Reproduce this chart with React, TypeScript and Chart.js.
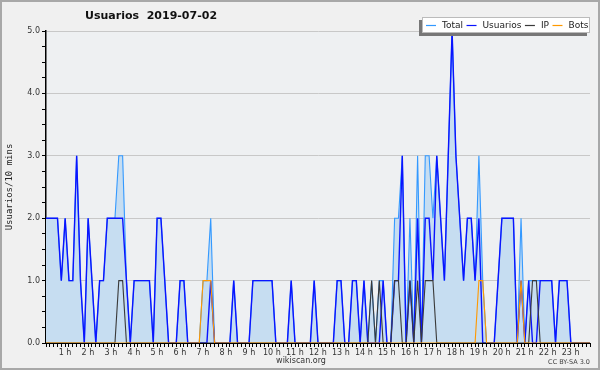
import React, { useEffect, useRef } from "react";
import { Chart, registerables } from "chart.js";

Chart.register(...registerables);

// 10-minute slots of the day (index 0 = 00:00, 6 = 01:00 ...)
const slots: number[] = Array.from({ length: 144 }, (_, i) => i);

const total: number[] = [
  2, 2, 2, 2, 1, 2, 1, 1, 3, 1, 0, 2,
  1, 0, 1, 1, 2, 2, 2, 3, 3, 1, 0, 1,
  1, 1, 1, 1, 0, 2, 2, 1, 0, 0, 0, 1,
  1, 0, 0, 0, 0, 1, 1, 2, 0, 0, 0, 0,
  0, 1, 0, 0, 0, 0, 1, 1, 1, 1, 1, 1,
  0, 0, 0, 0, 1, 0, 0, 0, 0, 0, 1, 0,
  0, 0, 0, 0, 1, 1, 0, 0, 1, 1, 0, 1,
  0, 1, 0, 1, 1, 0, 0, 2, 2, 3, 0, 2,
  0, 3, 0, 3, 3, 2, 3, 2, 1, 3, 5, 3,
  2, 1, 2, 2, 1, 3, 1, 0, 0, 0, 1, 2,
  2, 2, 2, 0, 2, 0, 1, 1, 1, 1, 1, 1,
  1, 0, 1, 1, 1, 0, 0, 0, 0, 0, 0, 0,
];

const usuarios: number[] = [
  2, 2, 2, 2, 1, 2, 1, 1, 3, 1, 0, 2,
  1, 0, 1, 1, 2, 2, 2, 2, 2, 1, 0, 1,
  1, 1, 1, 1, 0, 2, 2, 1, 0, 0, 0, 1,
  1, 0, 0, 0, 0, 0, 0, 1, 0, 0, 0, 0,
  0, 1, 0, 0, 0, 0, 1, 1, 1, 1, 1, 1,
  0, 0, 0, 0, 1, 0, 0, 0, 0, 0, 1, 0,
  0, 0, 0, 0, 1, 1, 0, 0, 1, 1, 0, 1,
  0, 0, 0, 0, 1, 0, 0, 1, 1, 3, 0, 1,
  0, 2, 0, 2, 2, 1, 3, 2, 1, 3, 5, 3,
  2, 1, 2, 2, 1, 2, 0, 0, 0, 0, 1, 2,
  2, 2, 2, 0, 1, 0, 1, 0, 0, 1, 1, 1,
  1, 0, 1, 1, 1, 0, 0, 0, 0, 0, 0, 0,
];

const ip: number[] = [
  0, 0, 0, 0, 0, 0, 0, 0, 0, 0, 0, 0,
  0, 0, 0, 0, 0, 0, 0, 1, 1, 0, 0, 0,
  0, 0, 0, 0, 0, 0, 0, 0, 0, 0, 0, 0,
  0, 0, 0, 0, 0, 0, 0, 0, 0, 0, 0, 0,
  0, 0, 0, 0, 0, 0, 0, 0, 0, 0, 0, 0,
  0, 0, 0, 0, 0, 0, 0, 0, 0, 0, 0, 0,
  0, 0, 0, 0, 0, 0, 0, 0, 0, 0, 0, 0,
  0, 1, 0, 1, 0, 0, 0, 1, 1, 0, 0, 1,
  0, 1, 0, 1, 1, 1, 0, 0, 0, 0, 0, 0,
  0, 0, 0, 0, 0, 0, 0, 0, 0, 0, 0, 0,
  0, 0, 0, 0, 0, 0, 0, 1, 1, 0, 0, 0,
  0, 0, 0, 0, 0, 0, 0, 0, 0, 0, 0, 0,
];

const bots: number[] = [
  0, 0, 0, 0, 0, 0, 0, 0, 0, 0, 0, 0,
  0, 0, 0, 0, 0, 0, 0, 0, 0, 0, 0, 0,
  0, 0, 0, 0, 0, 0, 0, 0, 0, 0, 0, 0,
  0, 0, 0, 0, 0, 1, 1, 1, 0, 0, 0, 0,
  0, 0, 0, 0, 0, 0, 0, 0, 0, 0, 0, 0,
  0, 0, 0, 0, 0, 0, 0, 0, 0, 0, 0, 0,
  0, 0, 0, 0, 0, 0, 0, 0, 0, 0, 0, 0,
  0, 0, 0, 0, 0, 0, 0, 0, 0, 0, 0, 0,
  0, 0, 0, 0, 0, 0, 0, 0, 0, 0, 0, 0,
  0, 0, 0, 0, 0, 1, 1, 0, 0, 0, 0, 0,
  0, 0, 0, 0, 1, 0, 0, 0, 0, 0, 0, 0,
  0, 0, 0, 0, 0, 0, 0, 0, 0, 0, 0, 0,
];

const seriesNames: string[] = ["Total", "Usuarios", "IP", "Bots"];
const chartTitle = "Usuarios  2019-07-02";
const yTitle = "Usuarios/10 mins";
const xTitle = "wikiscan.org";
const license = "CC BY-SA 3.0";

const FONT = '"DejaVu Sans", sans-serif';

const decor = {
  id: "decor",
  beforeDraw(chart: any) {
    const { ctx, chartArea: a, width, height } = chart;
    ctx.save();
    ctx.fillStyle = "#f0f0f0";
    ctx.fillRect(0, 0, width, height);
    ctx.fillStyle = "#eef0f2";
    ctx.fillRect(a.left, a.top, a.right - a.left, a.bottom - a.top);
    ctx.strokeStyle = "#a8a8a8";
    ctx.lineWidth = 2;
    ctx.strokeRect(1, 1, width - 2, height - 2);
    ctx.restore();
  },
  afterDraw(chart: any) {
    const { ctx, chartArea: a, width } = chart;
    ctx.save();
    // title
    ctx.fillStyle = "#111";
    ctx.font = `bold 11px ${FONT}`;
    ctx.textBaseline = "middle";
    ctx.textAlign = "left";
    ctx.fillText(chartTitle, 85, 16);
    // y title
    ctx.save();
    ctx.translate(10, (a.top + a.bottom) / 2);
    ctx.rotate(-Math.PI / 2);
    ctx.font = '9px "DejaVu Sans Mono", monospace';
    ctx.textAlign = "center";
    ctx.fillStyle = "#222";
    ctx.fillText(yTitle, 0, 0);
    ctx.restore();
    // x title
    ctx.font = `8px ${FONT}`;
    ctx.textAlign = "center";
    ctx.fillStyle = "#333";
    ctx.fillText(xTitle, 301, 361);
    // license
    ctx.font = `6.5px ${FONT}`;
    ctx.textAlign = "right";
    ctx.fillStyle = "#444";
    ctx.fillText(license, width - 10, 362);
    // legend
    const bx = 422, by = 17, bw = 168, bh = 16;
    ctx.fillStyle = "#777";
    ctx.fillRect(bx - 3, by + 3, bw, bh);
    ctx.fillStyle = "#fff";
    ctx.fillRect(bx, by, bw, bh);
    ctx.strokeStyle = "#bbb";
    ctx.lineWidth = 1;
    ctx.strokeRect(bx + 0.5, by + 0.5, bw - 1, bh - 1);
    ctx.font = `9px ${FONT}`;
    ctx.textAlign = "left";
    let x = 426;
    const y = by + 8.5;
    chart.data.datasets.forEach((ds: any) => {
      ctx.strokeStyle = ds.borderColor;
      ctx.lineWidth = 1.2;
      ctx.beginPath();
      ctx.moveTo(x, y);
      ctx.lineTo(x + 10, y);
      ctx.stroke();
      ctx.fillStyle = "#222";
      ctx.fillText(ds.label, x + 16, y);
      x = x + 16 + ctx.measureText(ds.label).width + 3.5;
    });
    ctx.restore();
  },
};

export default function App() {
  const ref = useRef<HTMLCanvasElement | null>(null);
  useEffect(() => {
    if (!ref.current) return;
    const chart = new Chart(ref.current, {
      type: "line",
      data: {
        labels: slots,
        datasets: [
          {
            label: seriesNames[0],
            data: total,
            borderColor: "#3399ff",
            backgroundColor: "#c6ddf1",
            fill: "origin",
            borderWidth: 1.1,
            pointRadius: 0,
            tension: 0,
            order: 4,
          },
          {
            label: seriesNames[1],
            data: usuarios,
            borderColor: "#0a14ff",
            borderWidth: 1.4,
            pointRadius: 0,
            fill: false,
            tension: 0,
            order: 3,
          },
          {
            label: seriesNames[2],
            data: ip,
            borderColor: "#3a3a3a",
            borderWidth: 1.1,
            pointRadius: 0,
            fill: false,
            tension: 0,
            order: 2,
          },
          {
            label: seriesNames[3],
            data: bots,
            borderColor: "#ff9900",
            borderWidth: 1.1,
            pointRadius: 0,
            fill: false,
            tension: 0,
            order: 1,
          },
        ],
      },
      options: {
        animation: false,
        responsive: false,
        events: [],
        layout: { padding: { top: 31, right: 10, left: 0, bottom: 0 } },
        plugins: {
          legend: { display: false },
          title: { display: false },
          tooltip: { enabled: false },
        },
        scales: {
          x: {
            type: "linear",
            min: 0,
            max: 142,
            afterFit: (s: any) => {
              s.height = 27;
            },
            border: { color: "#000", width: 1 },
            grid: {
              drawOnChartArea: false,
              tickLength: 4,
              color: "#000",
              tickColor: "#000",
            },
            ticks: {
              stepSize: 1,
              autoSkip: false,
              maxRotation: 0,
              minRotation: 0,
              padding: 1,
              labelOffset: -4,
              color: "#333",
              font: { size: 8, family: FONT },
              callback: (v: any) => (v % 6 === 0 && v > 0 ? `${v / 6} h` : ""),
            },
          },
          y: {
            min: 0,
            max: 5,
            afterFit: (s: any) => {
              s.width = 46;
            },
            border: { color: "#000", width: 1.5 },
            grid: {
              tickLength: 4,
              tickColor: "#000",
              color: (c: any) =>
                Number.isInteger(c.tick.value) ? "#c8c8c8" : "rgba(0,0,0,0)",
            },
            ticks: {
              stepSize: 0.25,
              autoSkip: false,
              padding: 2,
              color: "#333",
              font: { size: 8, family: FONT },
              callback: (v: any) => (Number.isInteger(v) ? Number(v).toFixed(1) : ""),
            },
          },
        },
      },
      plugins: [decor],
    });
    return () => chart.destroy();
  }, []);
  return (
    <div style={{ position: "fixed", left: 0, top: 0, width: 600, height: 370 }}>
      <canvas ref={ref} width={600} height={370} />
    </div>
  );
}
